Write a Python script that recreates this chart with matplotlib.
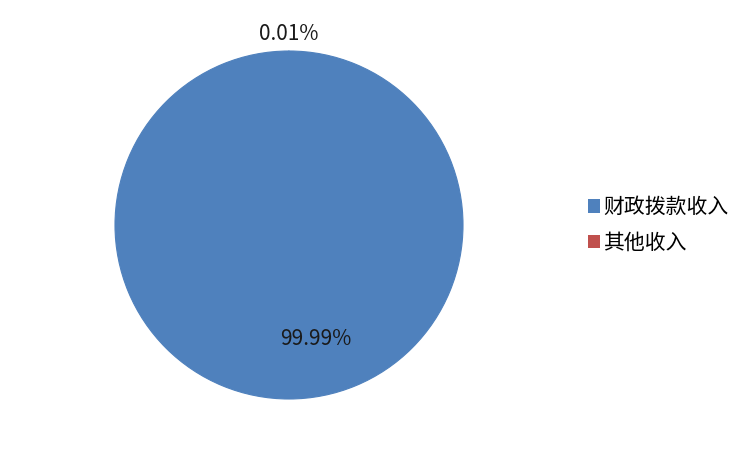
import matplotlib
matplotlib.use('Agg')
import matplotlib.pyplot as plt
from matplotlib.patches import Patch

plt.rcParams['font.family'] = ['Noto Sans CJK SC', 'DejaVu Sans']

categories = ['财政拨款收入', '其他收入']
values = [99.99, 0.01]
pct_labels = ['99.99%', '0.01%']
colors = ['#4F81BD', '#C0504D']

fig = plt.figure(figsize=(7.5, 4.5), dpi=100)
ax = fig.add_axes([115 / 750, 51 / 450, 348 / 750, 348 / 450])

wedges, _ = ax.pie(values, colors=colors, startangle=90, counterclock=False,
                   radius=1, wedgeprops=dict(linewidth=0))
# hide the antialiasing seam on the big slice
wedges[0].set_edgecolor(colors[0])
wedges[0].set_linewidth(0.8)
wedges[0].set_zorder(3)
ax.set_xlim(-1, 1)
ax.set_ylim(-1, 1)
ax.set_aspect('equal')

# data labels
ax.text(0.155, -0.655, pct_labels[0], ha='center', va='center', fontsize=15,
        color='#1a1a1a', zorder=5)
ax.text(0.0, 1.095, pct_labels[1], ha='center', va='center', fontsize=15,
        color='#1a1a1a', zorder=5)

handles = [Patch(facecolor=c, edgecolor='none') for c in colors]
fig.legend(handles, categories, loc='center left', bbox_to_anchor=(569 / 750, 1 - 225 / 450),
           frameon=False, fontsize=15, handlelength=0.6, handleheight=0.6,
           handletextpad=0.15, labelspacing=0.65)

fig.savefig('out.png', dpi=100)
